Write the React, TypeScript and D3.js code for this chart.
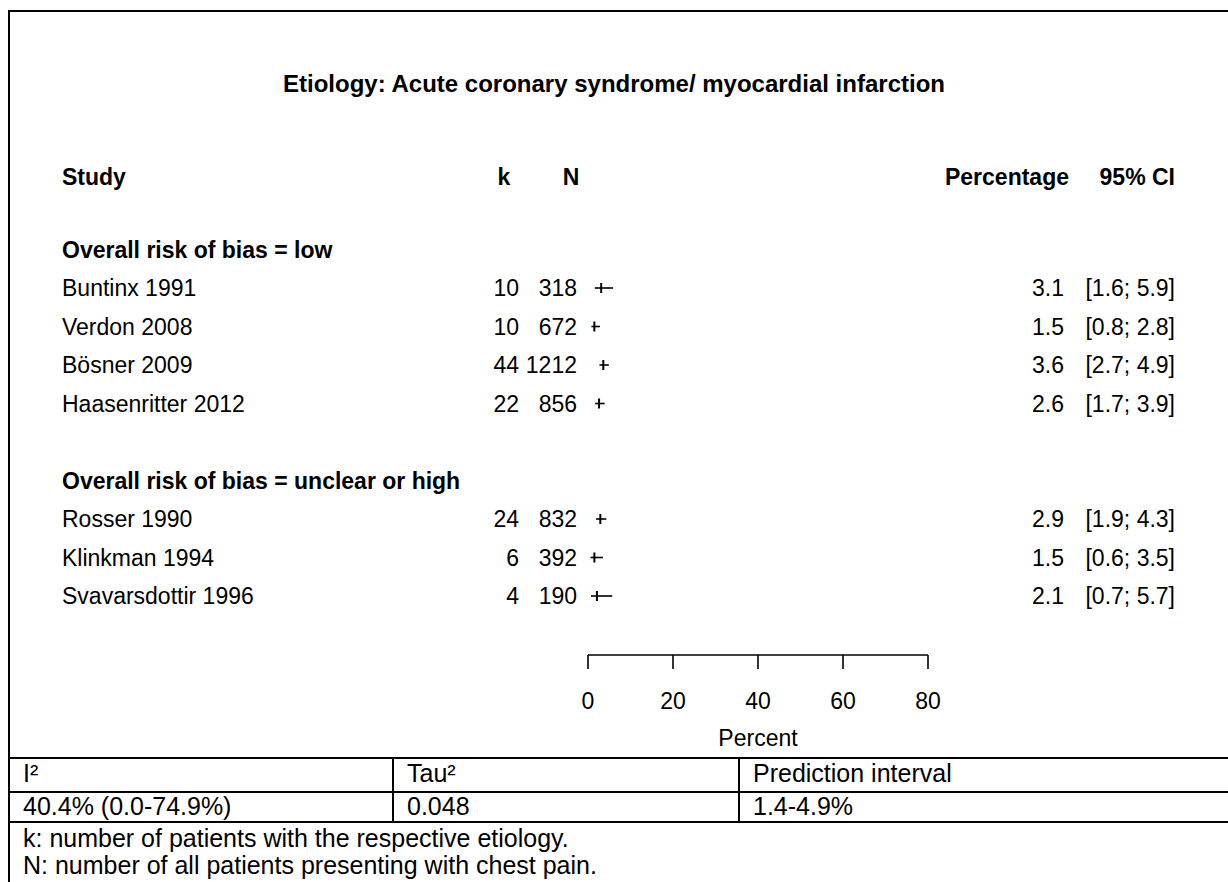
import React from "react";
import * as d3 from "d3";

const title = "Etiology: Acute coronary syndrome/ myocardial infarction";
const groupLabels = ["Overall risk of bias = low", "Overall risk of bias = unclear or high"];
const studies = ["Buntinx 1991", "Verdon 2008", "Bösner 2009", "Haasenritter 2012", "Rosser 1990", "Klinkman 1994", "Svavarsdottir 1996"];
const groupOf = [0, 0, 0, 0, 1, 1, 1];
const kVals = [10, 10, 44, 22, 24, 6, 4];
const nVals = [318, 672, 1212, 856, 832, 392, 190];
const pct = [3.1, 1.5, 3.6, 2.6, 2.9, 1.5, 2.1];
const lower = [1.6, 0.8, 2.7, 1.7, 1.9, 0.6, 0.7];
const upper = [5.9, 2.8, 4.9, 3.9, 4.3, 3.5, 5.7];
const xTicks = [0, 20, 40, 60, 80];
const colHeaders = ["Study", "k", "N", "Percentage", "95% CI"];
const axisTitle = "Percent";
const statHeaders = ["I²", "Tau²", "Prediction interval"];
const statValues = ["40.4% (0.0-74.9%)", "0.048", "1.4-4.9%"];
const footnotes = ["k: number of patients with the respective etiology.", "N: number of all patients presenting with chest pain."];

export default function App() {
  const W = 1228, H = 882;
  const x = d3.scaleLinear().domain([0, 80]).range([588, 928]);
  // row index -> vertical centre of the row
  const rowY = d3.scaleLinear().domain([0, 1]).range([249.5, 288]);
  const rows: { type: string; label: string; i?: number }[] = [];
  groupLabels.forEach((g, gi) => {
    if (gi > 0) rows.push({ type: "blank", label: "" });
    rows.push({ type: "group", label: g });
    studies.forEach((s, i) => {
      if (groupOf[i] === gi) rows.push({ type: "study", label: s, i });
    });
  });
  const font = "'Liberation Sans', Arial, sans-serif";
  const fs = 23;
  const bl = 8; // baseline offset from row centre
  const headerY = 177;
  const axisY = 655;
  const colX = [9, 393, 739];
  const tableTop = 758, tableMid = 792, tableBot = 822;
  const pad = 14;
  return (
    <svg width={W} height={H} style={{ position: "absolute", left: 0, top: 0, background: "#fff" }} fontFamily={font}>
      <rect x={0} y={0} width={W} height={H} fill="#fff" />
      <path d={`M9,${H} V11 H${W}`} fill="none" stroke="#000" strokeWidth={2} />
      <text x={614} y={92} textAnchor="middle" fontWeight="bold" fontSize={24}>{title}</text>
      <g fontWeight="bold" fontSize={fs}>
        <text x={62} y={headerY + bl}>{colHeaders[0]}</text>
        <text x={504} y={headerY + bl} textAnchor="middle">{colHeaders[1]}</text>
        <text x={571} y={headerY + bl} textAnchor="middle">{colHeaders[2]}</text>
        <text x={1069} y={headerY + bl} textAnchor="end">{colHeaders[3]}</text>
        <text x={1175} y={headerY + bl} textAnchor="end">{colHeaders[4]}</text>
      </g>
      {rows.map((r, ri) => {
        const y = rowY(ri);
        if (r.type === "blank") return null;
        if (r.type === "group")
          return <text key={ri} x={62} y={y + bl} fontWeight="bold" fontSize={fs}>{r.label}</text>;
        const i = r.i!;
        return (
          <g key={ri} fontSize={fs}>
            <text x={62} y={y + bl}>{r.label}</text>
            <text x={519} y={y + bl} textAnchor="end">{kVals[i]}</text>
            <text x={577} y={y + bl} textAnchor="end">{nVals[i]}</text>
            <line x1={x(lower[i])} x2={x(upper[i])} y1={y} y2={y} stroke="#000" strokeWidth={1.6} />
            <line x1={x(pct[i])} x2={x(pct[i])} y1={y - 5} y2={y + 5} stroke="#000" strokeWidth={2} />
            <text x={1064} y={y + bl} textAnchor="end">{pct[i].toFixed(1)}</text>
            <text x={1175} y={y + bl} textAnchor="end">{`[${lower[i].toFixed(1)}; ${upper[i].toFixed(1)}]`}</text>
          </g>
        );
      })}
      <g>
        <line x1={x(0)} x2={x(80)} y1={axisY} y2={axisY} stroke="#000" strokeWidth={1.6} />
        {xTicks.map((t) => (
          <g key={t}>
            <line x1={x(t)} x2={x(t)} y1={axisY} y2={axisY + 14} stroke="#000" strokeWidth={1.6} />
            <text x={x(t)} y={709} textAnchor="middle" fontSize={fs}>{t}</text>
          </g>
        ))}
        <text x={x(40)} y={746} textAnchor="middle" fontSize={fs}>{axisTitle}</text>
      </g>
      <g stroke="#000" strokeWidth={2}>
        <line x1={8} x2={W} y1={tableTop} y2={tableTop} />
        <line x1={8} x2={W} y1={tableMid} y2={tableMid} />
        <line x1={8} x2={W} y1={tableBot} y2={tableBot} />
        <line x1={colX[1]} x2={colX[1]} y1={tableTop} y2={tableBot} />
        <line x1={colX[2]} x2={colX[2]} y1={tableTop} y2={tableBot} />
      </g>
      <g fontSize={25}>
        {statHeaders.map((h, i) => (
          <text key={h} x={colX[i] + pad} y={782}>{h}</text>
        ))}
        {statValues.map((h, i) => (
          <text key={h} x={colX[i] + pad} y={815}>{h}</text>
        ))}
        {footnotes.map((f, i) => (
          <text key={f} x={colX[0] + pad} y={847 + i * 27}>{f}</text>
        ))}
      </g>
    </svg>
  );
}
